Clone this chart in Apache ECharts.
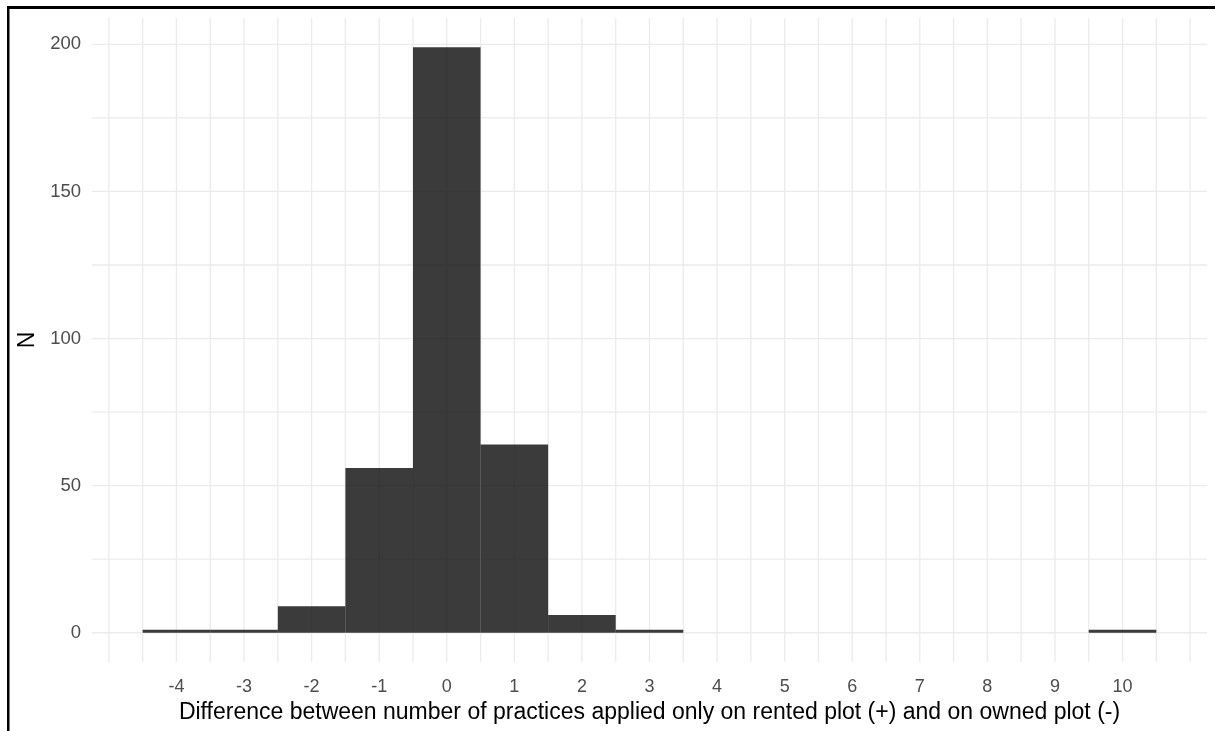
<!DOCTYPE html>
<html>
<head>
<meta charset="utf-8">
<script src="https://cdn.jsdelivr.net/npm/echarts@6/dist/echarts.min.js"></script>
<style>
html,body{margin:0;padding:0;background:#fff;}
#chart{width:1215px;height:731px;}
</style>
</head>
<body>
<div id="chart"></div>
<script>
// Data
var binCenters = [-4, -3, -2, -1, 0, 1, 2, 3, 10];
var counts = [1, 1, 9, 56, 199, 64, 6, 1, 1];
var binWidth = 1;
var xTickLabels = [-4, -3, -2, -1, 0, 1, 2, 3, 4, 5, 6, 7, 8, 9, 10];
var yTickLabels = [0, 50, 100, 150, 200];
var xGridValues = [-5, -4.5, -4, -3.5, -3, -2.5, -2, -1.5, -1, -0.5, 0, 0.5, 1, 1.5, 2, 2.5, 3, 3.5, 4, 4.5, 5, 5.5, 6, 6.5, 7, 7.5, 8, 8.5, 9, 9.5, 10, 10.5, 11];
var yGridValues = [0, 25, 50, 75, 100, 125, 150, 175, 200];
var xRange = [-5.25, 11.25];
var yRange = [-9.95, 208.95];
var xTitle = 'Difference between number of practices applied only on rented plot (+) and on owned plot (-)';
var yTitle = 'N';

var histData = binCenters.map(function (c, i) { return [c, counts[i]]; });
var vgridData = xGridValues.map(function (v) { return [v, 0]; });
var hgridData = yGridValues.map(function (v) { return [0, v]; });

var gridColor = '#ebebeb';
var fontFam = 'Liberation Sans, Arial, sans-serif';

var chart = echarts.init(document.getElementById('chart'), null, {renderer: 'canvas'});
chart.setOption({
  animation: false,
  backgroundColor: '#ffffff',
  textStyle: {fontFamily: fontFam},
  grid: {left: 92, right: 8, top: 18, bottom: 69, containLabel: false},
  xAxis: {
    type: 'value',
    min: xRange[0],
    max: xRange[1],
    axisLine: {show: false},
    axisTick: {show: false},
    splitLine: {show: false},
    axisLabel: {
      customValues: xTickLabels,
      color: '#4d4d4d',
      fontSize: 18,
      margin: 16,
      fontFamily: fontFam
    },
    name: xTitle,
    nameLocation: 'middle',
    nameGap: 37,
    nameTextStyle: {color: '#000', fontSize: 23, fontFamily: fontFam}
  },
  yAxis: {
    type: 'value',
    min: yRange[0],
    max: yRange[1],
    axisLine: {show: false},
    axisTick: {show: false},
    splitLine: {show: false},
    axisLabel: {
      customValues: yTickLabels,
      color: '#4d4d4d',
      fontSize: 18.5,
      margin: 11,
      fontFamily: fontFam
    },
    name: yTitle,
    nameLocation: 'middle',
    nameRotate: 90,
    nameGap: 48,
    nameTextStyle: {color: '#000', fontSize: 23, fontFamily: fontFam}
  },
  graphic: [
    {type: 'rect', shape: {x: 7, y: 6, width: 1208, height: 3}, style: {fill: '#000'}, z: 100},
    {type: 'rect', shape: {x: 7, y: 6, width: 2.5, height: 725}, style: {fill: '#000'}, z: 100}
  ],
  series: [
    {
      type: 'custom',
      name: 'vgrid',
      silent: true,
      z: 1,
      data: vgridData,
      renderItem: function (params, api) {
        var cs = params.coordSys;
        var px = api.coord([api.value(0), 0])[0];
        return {
          type: 'line',
          shape: {x1: px, y1: cs.y, x2: px, y2: cs.y + cs.height},
          style: {stroke: gridColor, lineWidth: 1.3}
        };
      }
    },
    {
      type: 'custom',
      name: 'hgrid',
      silent: true,
      z: 1,
      data: hgridData,
      renderItem: function (params, api) {
        var cs = params.coordSys;
        var py = api.coord([0, api.value(1)])[1];
        return {
          type: 'line',
          shape: {x1: cs.x, y1: py, x2: cs.x + cs.width, y2: py},
          style: {stroke: gridColor, lineWidth: 1.3}
        };
      }
    },
    {
      type: 'custom',
      name: 'hist',
      z: 2,
      data: histData,
      encode: {x: 0, y: 1},
      renderItem: function (params, api) {
        var c = api.value(0), v = api.value(1);
        var p0 = api.coord([c - binWidth / 2, v]);
        var p1 = api.coord([c + binWidth / 2, 0]);
        return {
          type: 'rect',
          shape: {x: p0[0], y: p0[1], width: p1[0] - p0[0], height: p1[1] - p0[1]},
          style: {fill: 'rgba(0,0,0,0.77)'}
        };
      }
    }
  ]
});
</script>
</body>
</html>
